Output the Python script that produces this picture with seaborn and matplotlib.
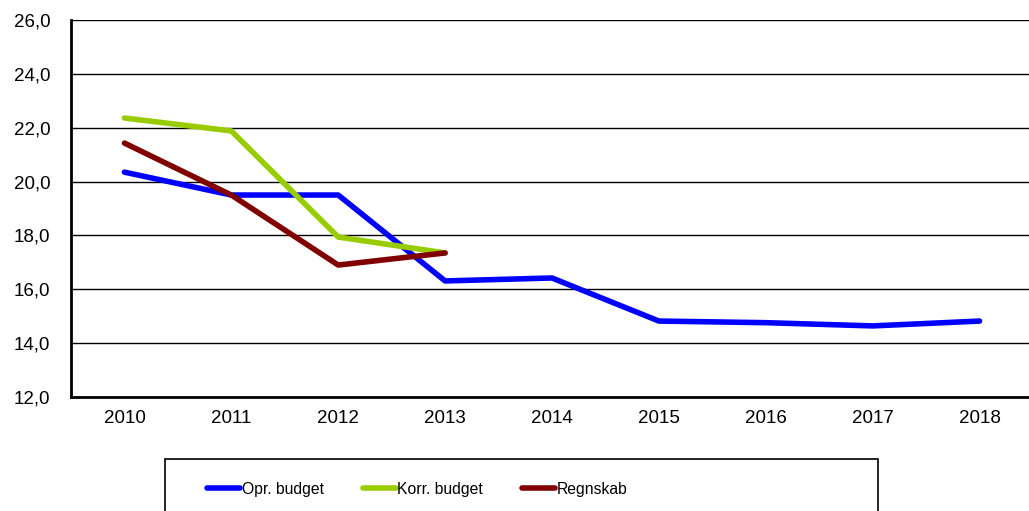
import pandas as pd
import matplotlib
matplotlib.use("Agg")
import matplotlib.pyplot as plt
import seaborn as sns
from matplotlib.patches import Rectangle
from matplotlib.ticker import FuncFormatter, FixedLocator

years = ["2010", "2011", "2012", "2013", "2014", "2015", "2016", "2017", "2018"]
opr_budget = [20.35, 19.5, 19.5, 16.31, 16.42, 14.82, 14.76, 14.64, 14.82]
korr_budget = [22.36, 21.88, 17.94, 17.35]
regnskab = [21.43, 19.5, 16.9, 17.35]

series_names = ["Opr. budget", "Korr. budget", "Regnskab"]
colors = ["#0000FF", "#99CC00", "#800000"]

rows = []
for name, vals in zip(series_names, [opr_budget, korr_budget, regnskab]):
    for yr, v in zip(years, vals):
        rows.append({"year": yr, "value": v, "series": name})
df = pd.DataFrame(rows)
df["pos"] = df["year"].map({y: i for i, y in enumerate(years)})

sns.set_style("white")
plt.rcParams["font.family"] = ["Liberation Sans", "DejaVu Sans"]
plt.rcParams["text.color"] = "black"

fig = plt.figure(figsize=(10.29, 5.11), dpi=100)
ax = fig.add_axes([71 / 1029, 1 - 397 / 511, (1033 - 71) / 1029, (397 - 20) / 511])

sns.lineplot(data=df, x="pos", y="value", hue="series", hue_order=series_names,
             palette=colors, linewidth=4, sort=False, ax=ax, legend=False,
             solid_capstyle="round")

ax.set_xlim(-0.5, len(years) - 0.5)
ax.set_ylim(12, 26)
ax.set_yticks(range(12, 27, 2))
ax.yaxis.set_major_formatter(FuncFormatter(lambda v, p: f"{v:.1f}".replace(".", ",")))
ax.grid(axis="y", color="black", linewidth=1)
ax.set_axisbelow(True)

ax.set_xticks(range(len(years)))
ax.set_xticklabels(years)
ax.xaxis.set_minor_locator(FixedLocator([i + 0.5 for i in range(-1, len(years))]))
ax.tick_params(axis="x", which="major", length=0, pad=9, labelsize=13.5, labelcolor="black")
ax.tick_params(axis="x", which="minor", length=6, width=1.2, color="black", direction="out")
ax.tick_params(axis="y", length=7, width=1.2, color="black", direction="out", labelsize=13.5,
               labelcolor="black", pad=8)
ax.set_xlabel("")
ax.set_ylabel("")

for side in ["top", "right"]:
    ax.spines[side].set_visible(False)
for side in ["left", "bottom"]:
    ax.spines[side].set_color("black")
    ax.spines[side].set_linewidth(2)

# legend box
fig.patches.append(Rectangle((165 / 1029, -0.05), (878 - 165) / 1029, 1 - 459 / 511 + 0.05,
                             transform=fig.transFigure, fill=False, edgecolor="black",
                             linewidth=1.2))
handles = [plt.Line2D([], [], color=c, linewidth=4, solid_capstyle="round") for c in colors]
fig.legend(handles, series_names, loc="center left", bbox_to_anchor=(193 / 1029, 1 - 489 / 511),
           ncol=3, frameon=False, fontsize=11.3, handlelength=2.1, handletextpad=0.1,
           columnspacing=2.5)

fig.savefig("out.png", dpi=100)
